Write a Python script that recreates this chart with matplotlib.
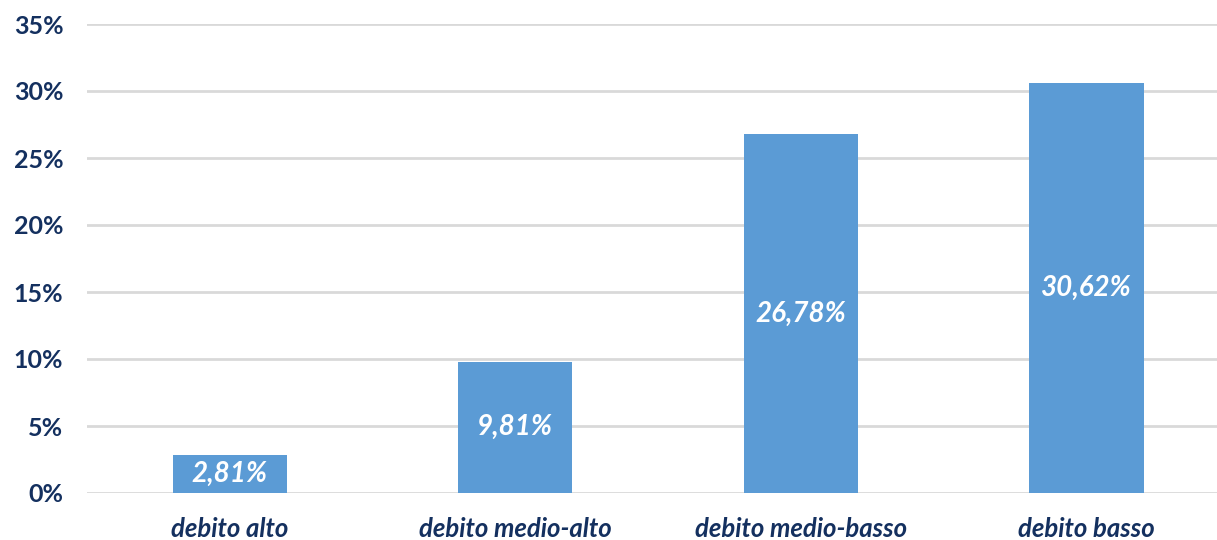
import numpy as np
import matplotlib.pyplot as plt
from matplotlib.ticker import FuncFormatter

categories = ['debito alto', 'debito medio-alto', 'debito medio-basso', 'debito basso']
values = [2.81, 9.81, 26.78, 30.62]   # percent
yticks = [0, 5, 10, 15, 20, 25, 30, 35]

navy = '#14305F'
bar_col = '#5B9BD5'

plt.rcParams['font.family'] = ['Lato', 'DejaVu Sans']

fig = plt.figure(figsize=(12.17, 5.4), dpi=100)
ax = fig.add_axes([87/1217, 47/540, 1 - 87/1217, (493-24)/540])

x = np.arange(len(categories))
bars = ax.bar(x, values, width=0.4, color=bar_col, zorder=3)

# labels centered in the bars, comma as decimal separator
for b, v in zip(bars, values):
    ax.text(b.get_x() + b.get_width()/2, v/2, ('%.2f%%' % v).replace('.', ','),
            ha='center', va='center', color='white', fontsize=20,
            fontweight='bold', fontstyle='italic', zorder=4)

ax.set_ylim(0, 35)
ax.set_xlim(-0.5, (1217-230)/285.5)
ax.set_yticks(yticks)
ax.yaxis.set_major_formatter(FuncFormatter(lambda v, p: '%d%%' % v))
ax.set_xticks(x)
ax.set_xticklabels(categories)

ax.grid(axis='y', color='#D9D9D9', linewidth=2, zorder=0)
for s in ax.spines.values():
    s.set_visible(False)
ax.tick_params(axis='both', length=0)
ax.tick_params(axis='y', pad=17)
ax.tick_params(axis='x', pad=17)
for t in ax.get_yticklabels():
    t.set_color(navy); t.set_fontsize(18); t.set_fontweight('bold')
for t in ax.get_xticklabels():
    t.set_color(navy); t.set_fontsize(18.5); t.set_fontweight('bold'); t.set_fontstyle('italic')

plt.savefig('out.png', dpi=100)
